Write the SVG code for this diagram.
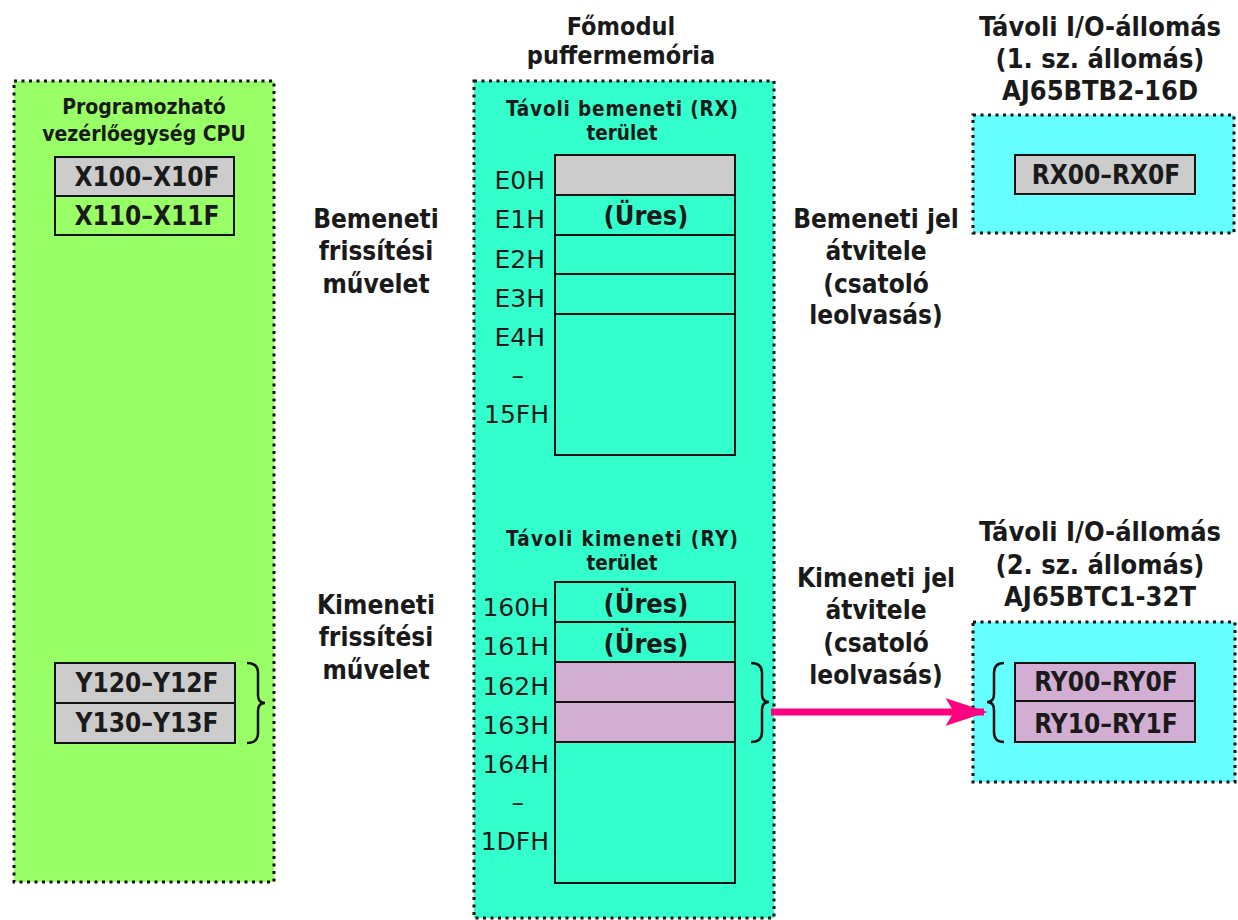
<svg xmlns="http://www.w3.org/2000/svg" width="1238" height="920" viewBox="0 0 1238 920">
<style>
.panel{stroke:#111;stroke-width:3;stroke-dasharray:3 4.5}
.cell{stroke:#111;stroke-width:2}
.t{font-family:"DejaVu Sans Condensed","DejaVu Sans",Verdana,sans-serif;font-stretch:condensed;font-weight:bold;fill:#1a1a1a;text-anchor:middle}
.lbl{font-family:"DejaVu Sans",Verdana,sans-serif;fill:#1a1a1a;text-anchor:end;font-size:25px}
.br{fill:none;stroke:#111;stroke-width:2.5}
</style>
<defs>
<marker id="ah" markerWidth="6" markerHeight="4" refX="5.5" refY="2" orient="auto" markerUnits="strokeWidth">
<path d="M0,0 L6,2 L0,4 L1.2,2 Z" fill="#ff0080"/>
</marker>
</defs>
<g id="cpu">
<rect class="panel" x="14" y="81" width="260" height="801" fill="#99ff66"/>
<text class="t" x="144" y="114" font-size="21">Programozható</text>
<text class="t" x="144" y="141" font-size="21">vezérlőegység CPU</text>
<rect class="cell" x="55" y="157" width="179" height="39" fill="#cccccc"/>
<rect class="cell" x="55" y="196" width="179" height="39" fill="#99ff66"/>
<text class="t" x="147" y="186" font-size="26">X100–X10F</text>
<text class="t" x="147" y="225" font-size="26">X110–X11F</text>
<rect class="cell" x="55" y="663" width="180" height="80" fill="#cccccc"/>
<line class="cell" x1="55" y1="703" x2="235" y2="703"/>
<text class="t" x="147" y="692" font-size="26">Y120–Y12F</text>
<text class="t" x="147" y="732" font-size="26">Y130–Y13F</text>
<path class="br" d="M247,663 Q258,663 258,673 L258,695 Q258,703 265,703 Q258,703 258,711 L258,733 Q258,743 247,743"/>
</g>
<g id="buffer">
<text class="t" x="621" y="35" font-size="25">Főmodul</text>
<text class="t" x="621" y="64" font-size="25">puffermemória</text>
<rect class="panel" x="474" y="81" width="300" height="837" fill="#33ffcc"/>
<text class="t" x="622" y="116" font-size="20.5" textLength="232" lengthAdjust="spacing">Távoli bemeneti (RX)</text>
<text class="t" x="622" y="140" font-size="20.5">terület</text>
<rect class="cell" x="555" y="155" width="180" height="40" fill="#cccccc"/>
<rect class="cell" x="555" y="195" width="180" height="40" fill="#33ffcc"/>
<rect class="cell" x="555" y="235" width="180" height="39" fill="#33ffcc"/>
<rect class="cell" x="555" y="274" width="180" height="40" fill="#33ffcc"/>
<rect class="cell" x="555" y="314" width="180" height="141" fill="#33ffcc"/>
<text class="t" x="646" y="225" font-size="27">(Üres)</text>
<text class="lbl" x="545" y="189">E0H</text>
<text class="lbl" x="545" y="228">E1H</text>
<text class="lbl" x="545" y="268">E2H</text>
<text class="lbl" x="545" y="307">E3H</text>
<text class="lbl" x="545" y="346">E4H</text>
<text class="lbl" x="524" y="384">–</text>
<text class="lbl" x="549" y="423">15FH</text>
<text class="t" x="622" y="546" font-size="20.5" textLength="232" lengthAdjust="spacing">Távoli kimeneti (RY)</text>
<text class="t" x="622" y="570" font-size="20.5">terület</text>
<rect class="cell" x="555" y="582" width="180" height="40" fill="#33ffcc"/>
<rect class="cell" x="555" y="622" width="180" height="40" fill="#33ffcc"/>
<rect class="cell" x="555" y="662" width="180" height="40" fill="#d2aed2"/>
<rect class="cell" x="555" y="702" width="180" height="40" fill="#d2aed2"/>
<rect class="cell" x="555" y="742" width="180" height="141" fill="#33ffcc"/>
<text class="t" x="646" y="613" font-size="27">(Üres)</text>
<text class="t" x="646" y="653" font-size="27">(Üres)</text>
<text class="lbl" x="549" y="616">160H</text>
<text class="lbl" x="549" y="655">161H</text>
<text class="lbl" x="549" y="695">162H</text>
<text class="lbl" x="549" y="734">163H</text>
<text class="lbl" x="549" y="773">164H</text>
<text class="lbl" x="524" y="811">–</text>
<text class="lbl" x="549" y="850">1DFH</text>
<path class="br" d="M751,663 Q762,663 762,673 L762,694 Q762,702 769,702 Q762,702 762,710 L762,732 Q762,742 751,742"/>
</g>
<g id="station1">
<text class="t" x="1100" y="36" font-size="27">Távoli I/O-állomás</text>
<text class="t" x="1100" y="68" font-size="27">(1. sz. állomás)</text>
<text class="t" x="1100" y="100" font-size="27">AJ65BTB2-16D</text>
<rect class="panel" x="973" y="115" width="261" height="118" fill="#66ffff"/>
<rect class="cell" x="1015" y="155" width="180" height="39" fill="#cccccc"/>
<text class="t" x="1106" y="184" font-size="26">RX00–RX0F</text>
</g>
<g id="station2">
<text class="t" x="1100" y="541" font-size="27">Távoli I/O-állomás</text>
<text class="t" x="1100" y="574" font-size="27">(2. sz. állomás)</text>
<text class="t" x="1100" y="606" font-size="27">AJ65BTC1-32T</text>
<rect class="panel" x="973" y="622" width="262" height="160" fill="#66ffff"/>
<rect class="cell" x="1015" y="663" width="180" height="79" fill="#d2aed2"/>
<line class="cell" x1="1015" y1="701" x2="1195" y2="701"/>
<text class="t" x="1106" y="691" font-size="26">RY00–RY0F</text>
<text class="t" x="1106" y="733" font-size="26">RY10–RY1F</text>
<path class="br" d="M1004,663 Q994,663 994,673 L994,694 Q994,702 987,702 Q994,702 994,710 L994,732 Q994,742 1004,742"/>
</g>
<g id="labels">
<text class="t" x="376" y="228" font-size="26">Bemeneti</text>
<text class="t" x="376" y="260" font-size="26">frissítési</text>
<text class="t" x="376" y="293" font-size="26">művelet</text>
<text class="t" x="876" y="228" font-size="26">Bemeneti jel</text>
<text class="t" x="876" y="260" font-size="26">átvitele</text>
<text class="t" x="876" y="293" font-size="26">(csatoló</text>
<text class="t" x="876" y="324" font-size="26">leolvasás)</text>
<text class="t" x="376" y="614" font-size="26">Kimeneti</text>
<text class="t" x="376" y="646" font-size="26">frissítési</text>
<text class="t" x="376" y="679" font-size="26">művelet</text>
<text class="t" x="876" y="587" font-size="26">Kimeneti jel</text>
<text class="t" x="876" y="619" font-size="26">átvitele</text>
<text class="t" x="876" y="652" font-size="26">(csatoló</text>
<text class="t" x="876" y="684" font-size="26">leolvasás)</text>
</g>
<g id="connectors">
<line x1="771" y1="712" x2="984" y2="712" stroke="#ff0080" stroke-width="7" marker-end="url(#ah)"/>
</g>
</svg>
